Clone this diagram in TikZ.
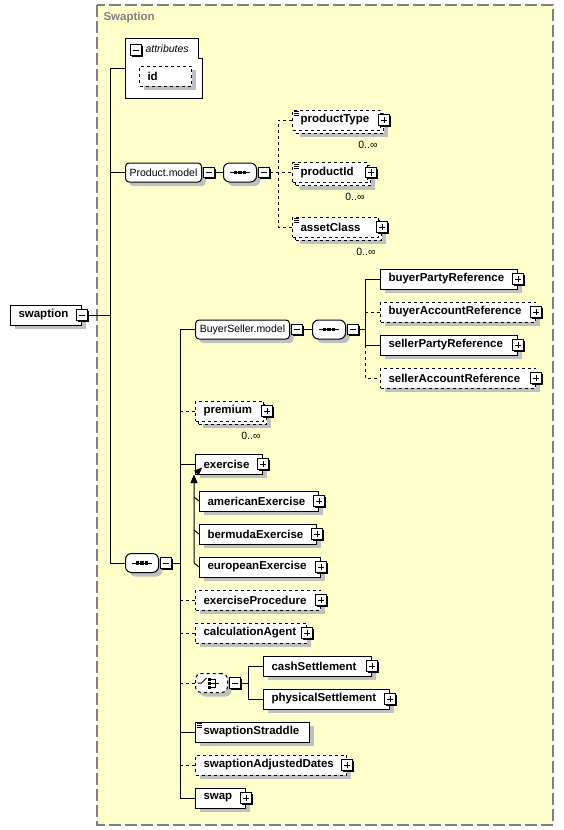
\documentclass[tikz,border=0pt]{standalone}
\usepackage{fontspec}
\setmainfont{Liberation Sans}
\usetikzlibrary{arrows}
\usetikzlibrary{shadows}

\definecolor{paneyellow}{RGB}{255,255,204}
\definecolor{panegray}{RGB}{128,128,128}
\definecolor{shadowgray}{RGB}{192,192,192}

\newcommand\elfont{\fontsize{11.5}{13}\selectfont\bfseries}
\newcommand\grpfont{\fontsize{10.5}{12}\selectfont}
\newcommand\attrfont{\fontsize{10.5}{12}\selectfont\itshape}

\tikzset{
  box/.style={draw, fill=white, anchor=west, minimum height=20pt, inner xsep=8pt,
    inner ysep=0pt, align=left, text width=#1, font=\elfont},
  elem/.style={box=#1, drop shadow={shadow xshift=4pt, shadow yshift=-4pt, fill=shadowgray, opacity=1}},
  optelem/.style={elem=#1, dashed},
  multi/.style={box=#1, dashed,
    drop shadow={shadow xshift=7pt, shadow yshift=-7pt, fill=shadowgray, opacity=1},
    copy shadow={shadow xshift=3pt, shadow yshift=-3pt, draw, dashed, fill=white, opacity=1}},
  group/.style={draw, fill=white, anchor=west, rounded corners=3.5pt,
    minimum height=19pt, inner sep=0pt, font=\grpfont,
    drop shadow={shadow xshift=4pt, shadow yshift=-4pt, fill=shadowgray, opacity=1}},
  compositor/.style={group, rounded corners=6pt, minimum width=33pt},
  pmbox/.style={draw, solid, sharp corners, fill=white, minimum size=10.5pt, inner sep=0pt,
    drop shadow={shadow xshift=1.5pt, shadow yshift=-1.5pt, fill=black, opacity=1}},
  minus/.style={pmbox, path picture={
      \draw ([xshift=2.2pt]path picture bounding box.west) -- ([xshift=-2.2pt]path picture bounding box.east);}},
  plus/.style={pmbox, path picture={
      \draw ([xshift=2.2pt]path picture bounding box.west) -- ([xshift=-2.2pt]path picture bounding box.east)
            ([yshift=-2.2pt]path picture bounding box.north) -- ([yshift=2.2pt]path picture bounding box.south);}},
  occ/.style={font=\grpfont, anchor=east, inner sep=0pt},
}

% small glyphs inside boxes
\newcommand\seqicon[1]{%
  \draw ([xshift=-10pt]#1.center) -- ([xshift=10pt]#1.center);
  \foreach \dx in {-4.5,0,4.5}
    \fill ([xshift=\dx pt]#1.center) +(-1.6pt,-1.6pt) rectangle +(1.6pt,1.6pt);}
\newcommand\choiceicon[1]{%
  \draw ([xshift=-14pt]#1.center) -- ++(4,0) -- ++(5,-5);
  \foreach \dy in {-4,0,4} {
    \fill ([shift={(-2,\dy)}]#1.center) +(-1.5pt,-1.5pt) rectangle +(1.5pt,1.5pt);
    \draw ([shift={(-1,\dy)}]#1.center) -- ++(5,0);}
  \draw ([shift={(4,-4)}]#1.center) -- ++(0,8) ([shift={(4,0)}]#1.center) -- ++(3,0);}
\newcommand\docicon[1]{%
  \foreach \dy in {2,4,6}
    \draw[line width=0.7pt, solid] ([shift={(2,\dy)}]#1.north west) -- ++(5,0);}

\begin{document}
\begin{tikzpicture}[x=1pt, y=-1pt, line width=1pt]
  \useasboundingbox (0,0) rectangle (563,830);

  % Swaption pane
  \draw[panegray, line width=1.5pt, dash pattern=on 12pt off 4pt, fill=paneyellow] (97,5) rectangle (553,825);
  \node[anchor=west, inner sep=0pt, text=panegray, font=\fontsize{11.5}{13}\selectfont\bfseries] (title) at (103,18) {Swaption};

  % Root element
  \node[elem=55] (swaption) at (10,315) {swaption};
  \node[minus] (swaptionM) at (swaption.east) {};

  % Attributes
  \draw[fill=white] (125,38) -- (198,38) -- (198,58) -- (202,58) -- (202,98) -- (125,98) -- cycle;
  \node[minus] (attrM) at (136,50) {};
  \node[anchor=west, inner sep=0pt, font=\attrfont] (attrLabel) at (145,49) {attributes};
  \node[optelem=36] (id) at (139,76) {id};
  \coordinate (attrIn) at (125,68);

  % Product model
  \node[group, minimum width=76pt] (prodModel) at (125,172.5) {Product.model};
  \node[minus, anchor=west] (prodModelM) at ([xshift=1pt]prodModel.east) {};
  \node[compositor] (prodSeq) at (223,172.5) {};
  \node[minus, anchor=west] (prodSeqM) at ([xshift=1pt]prodSeq.east) {};
  \seqicon{prodSeq}

  \node[multi=72] (productType) at (292,120) {productType};
  \node[plus] (productTypeP) at ([xshift=3pt]productType.east) {};
  \node[occ] (productTypeOcc) at ([shift={(-3,14)}]productType.south east) {0..∞};
  \docicon{productType}

  \node[multi=59] (productId) at (292,172.5) {productId};
  \node[plus] (productIdP) at ([xshift=3pt]productId.east) {};
  \node[occ] (productIdOcc) at ([shift={(-3,14)}]productId.south east) {0..∞};
  \docicon{productId}

  \node[multi=70] (assetClass) at (292,227) {assetClass};
  \node[plus] (assetClassP) at ([xshift=3pt]assetClass.east) {};
  \node[occ] (assetClassOcc) at ([shift={(-3,14)}]assetClass.south east) {0..∞};
  \docicon{assetClass}

  % Main sequence
  \node[compositor] (mainSeq) at (125,563) {};
  \node[minus, anchor=west] (mainSeqM) at ([xshift=1pt]mainSeq.east) {};
  \seqicon{mainSeq}

  % Buyer seller model
  \node[group, minimum width=94pt] (bsModel) at (195,329.5) {BuyerSeller.model};
  \node[minus, anchor=west] (bsModelM) at ([xshift=1pt]bsModel.east) {};
  \node[compositor] (bsSeq) at (312,329.5) {};
  \node[minus, anchor=west] (bsSeqM) at ([xshift=1pt]bsSeq.east) {};
  \seqicon{bsSeq}

  \node[elem=121] (buyerParty) at (380,279) {buyerPartyReference};
  \node[plus] (buyerPartyP) at (buyerParty.east) {};
  \node[optelem=139] (buyerAccount) at (380,312) {buyerAccountReference};
  \node[plus] (buyerAccountP) at (buyerAccount.east) {};
  \node[elem=121] (sellerParty) at (380,345) {sellerPartyReference};
  \node[plus] (sellerPartyP) at (sellerParty.east) {};
  \node[optelem=139] (sellerAccount) at (380,378) {sellerAccountReference};
  \node[plus] (sellerAccountP) at (sellerAccount.east) {};

  % Premium and exercise
  \node[multi=52] (premium) at (195,411) {premium};
  \node[plus] (premiumP) at ([xshift=3pt]premium.east) {};
  \node[occ] (premiumOcc) at ([shift={(-3,14)}]premium.south east) {0..∞};

  \node[elem=51] (exercise) at (195,464) {exercise};
  \node[plus] (exerciseP) at (exercise.east) {};
  \draw[-triangle 45, line width=0.8pt] ([shift={(2,-2)}]exercise.south west) -- ++(5,-5);

  \node[elem=103] (american) at (199,501) {americanExercise};
  \node[plus] (americanP) at (american.east) {};
  \node[elem=101] (bermuda) at (199,534) {bermudaExercise};
  \node[plus] (bermudaP) at (bermuda.east) {};
  \node[elem=105] (european) at (199,567) {europeanExercise};
  \node[plus] (europeanP) at (european.east) {};

  \node[optelem=109] (exerciseProcedure) at (195,600) {exerciseProcedure};
  \node[plus] (exerciseProcedureP) at (exerciseProcedure.east) {};
  \node[optelem=95] (calculationAgent) at (195,633) {calculationAgent};
  \node[plus] (calculationAgentP) at (calculationAgent.east) {};

  % Settlement choice
  \node[compositor, dashed, minimum width=32pt] (choice) at (195,683) {};
  \node[minus, anchor=west] (choiceM) at ([xshift=1pt]choice.east) {};
  \choiceicon{choice}
  \node[elem=92] (cashSettlement) at (263,666) {cashSettlement};
  \node[plus] (cashSettlementP) at (cashSettlement.east) {};
  \node[elem=110] (physicalSettlement) at (263,699) {physicalSettlement};
  \node[plus] (physicalSettlementP) at (physicalSettlement.east) {};

  % Remaining elements
  \node[elem=98] (straddle) at (195,732) {swaptionStraddle};
  \docicon{straddle}
  \node[optelem=135] (adjustedDates) at (195,765) {swaptionAdjustedDates};
  \node[plus] (adjustedDatesP) at (adjustedDates.east) {};
  \node[elem=34] (swap) at (195,798) {swap};
  \node[plus] (swapP) at (swap.east) {};

  % Connectors
  \coordinate (trunkA) at (110,0);
  \coordinate (trunkP) at (278,0);
  \coordinate (trunkB) at (365,0);
  \coordinate (trunkC) at (180,0);
  \coordinate (trunkD) at (248,0);

  \draw (swaptionM.east) -- (swaptionM.east -| trunkA);
  \draw (attrIn) -| (trunkA |- mainSeq.west) -- (mainSeq.west);
  \draw (trunkA |- prodModel.west) -- (prodModel.west);

  \draw (prodModelM.east) -- (prodSeq.west);
  \draw[dashed] (prodSeqM.east) -- (productId.west);
  \draw[dashed] (productType.west) -| (trunkP |- assetClass.west) -- (assetClass.west);

  \draw (bsModelM.east) -- (bsSeq.west);
  \draw (bsSeqM.east) -- (bsSeqM.east -| trunkB);
  \draw (buyerParty.west) -| (trunkB |- sellerParty.west) -- (sellerParty.west);
  \draw[dashed] (trunkB |- buyerAccount.west) -- (buyerAccount.west);
  \draw[dashed] (trunkB |- sellerParty.west) |- (sellerAccount.west);

  \draw (mainSeqM.east) -- (mainSeqM.east -| trunkC);
  \draw (bsModel.west) -| (trunkC |- swap.west) -- (swap.west);
  \draw[dashed] (trunkC |- premium.west) -- (premium.west);
  \draw (trunkC |- exercise.west) -- (exercise.west);
  \draw[dashed] (trunkC |- exerciseProcedure.west) -- (exerciseProcedure.west);
  \draw[dashed] (trunkC |- calculationAgent.west) -- (calculationAgent.west);
  \draw[dashed] (trunkC |- choice.west) -- (choice.west);
  \draw (trunkC |- straddle.west) -- (straddle.west);
  \draw[dashed] (trunkC |- adjustedDates.west) -- (adjustedDates.west);

  % Substitution group of exercise
  \coordinate (substBot) at ([shift={(-5,-4)}]european.west);
  \draw[-triangle 45] (european.west) -- (substBot) -- (substBot |- exercise.south);
  \draw (american.west) -- ++(-5,-4);
  \draw (bermuda.west) -- ++(-5,-4);

  \draw (choiceM.east) -- (choiceM.east -| trunkD);
  \draw (cashSettlement.west) -| (trunkD |- physicalSettlement.west) -- (physicalSettlement.west);

\end{tikzpicture}
\end{document}
